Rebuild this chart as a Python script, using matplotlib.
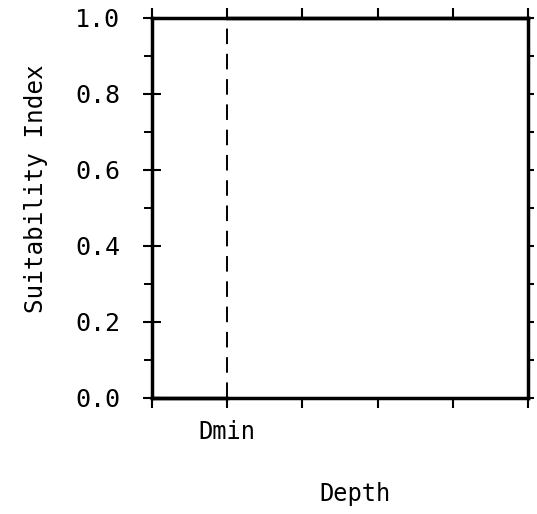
import matplotlib
matplotlib.use("Agg")
import matplotlib.pyplot as plt
import matplotlib.ticker as mticker

# suitability index vs depth: 0 below Dmin, 1 from Dmin on
depth = [0, 1, 1, 5]
si = [0, 0, 1, 1]
dmin = 1
x_ticks = [0, 1, 2, 3, 4, 5]
x_labels = ["", "Dmin", "", "", "", ""]
y_ticks = [0.0, 0.2, 0.4, 0.6, 0.8, 1.0]

plt.rcParams["font.family"] = "DejaVu Sans Mono"

fig = plt.figure(figsize=(5.37, 5.14), dpi=100)
ax = fig.add_axes([0.283, 0.2257, 0.7, 0.7393])

ax.plot(depth[:2], si[:2], color="black", lw=2.5, clip_on=False)
ax.plot(depth[2:], si[2:], color="black", lw=2.5, clip_on=False)
ax.axvline(dmin, color="black", lw=1.4, linestyle=(0, (8, 5)))

ax.set_xlim(0, 5)
ax.set_ylim(0, 1)
ax.set_xticks(x_ticks)
ax.set_xticklabels(x_labels, fontsize=17)
ax.set_yticks(y_ticks)
ax.set_yticklabels([f"{v:.1f}" for v in y_ticks], fontsize=18)
ax.yaxis.set_minor_locator(mticker.MultipleLocator(0.1))

for s in ax.spines.values():
    s.set_linewidth(2.5)

# left: crossing major ticks, outward minor ticks
ax.tick_params(axis="y", which="major", direction="inout", length=12.5, width=1.5, pad=16.5)
ax.tick_params(axis="y", which="minor", direction="out", length=6, width=1.4)
# top and bottom: outward
ax.tick_params(axis="x", which="major", direction="out", length=7.5, width=1.5,
               top=True, pad=8.5)

# right: short outward ticks every 0.1
ax_r = ax.twinx()
ax_r.set_ylim(0, 1)
ax_r.yaxis.set_major_locator(mticker.MultipleLocator(0.1))
ax_r.tick_params(axis="y", direction="out", length=4, width=1.5, labelright=False)
for s in ax_r.spines.values():
    s.set_visible(False)

ax.set_xlabel("Depth", fontsize=17)
ax.xaxis.set_label_coords(0.54, -0.222)
ax.set_ylabel("Suitability Index", fontsize=17.5)
ax.yaxis.set_label_coords(-0.277, 0.55)

fig.savefig("out.png", dpi=100)
